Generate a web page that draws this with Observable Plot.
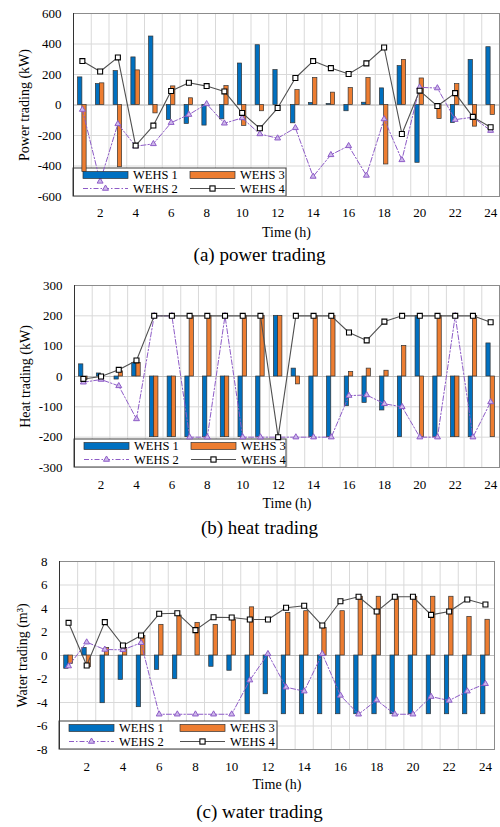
<!DOCTYPE html>
<html><head><meta charset="utf-8">
<script src="https://cdn.jsdelivr.net/npm/d3@7"></script>
<script src="https://cdn.jsdelivr.net/npm/@observablehq/plot@0.6"></script>
<style>
body{margin:0;background:#fff;}
#c{position:relative;width:500px;height:827px;overflow:hidden;}
#c svg{position:absolute;left:0;}
</style></head><body><div id="c"></div>
<script>
const hours = d3.range(1, 25);
const xTicks = [2, 4, 6, 8, 10, 12, 14, 16, 18, 20, 22, 24];
const seriesNames = ["WEHS 1", "WEHS 2", "WEHS 3", "WEHS 4"];

// (a) power trading (kW)
const powerW1 = [181,137,222,312,449,-98,-124,-135,-94,272,392,229,-120,13,7,-41,15,109,255,-379,0,-118,296,379];
const powerW2 = [-30,-501,-124,-270,-255,-116,-63,7,-120,-85,-190,-218,-150,-469,-327,-268,-462,-92,-360,116,111,-96,-80,-168];
const powerW3 = [-440,142,-408,227,-55,122,44,0,124,-137,-41,0,98,177,81,111,177,-390,296,174,-92,137,-142,-65];
const powerW4 = [288,220,312,-266,-135,92,146,124,89,-52,-153,-20,177,288,242,203,273,377,-190,94,-7,78,-78,-146];
const powerTicks = [-600,-400,-200,0,200,400,600];

// (b) heat trading (kW)
const heatW1 = [40,10,-10,45,-200,-200,-200,-200,-200,-200,-200,200,26,-200,-200,-98,-87,-112,-200,200,-200,-200,-200,109];
const heatW2 = [-19,-10,-31,-140,200,200,-200,-200,200,-200,-200,-200,-200,-200,-200,-63,-61,-90,-100,-200,-200,200,-200,-84];
const heatW3 = [-12,0,17,45,-200,-200,200,200,-200,200,200,200,-26,200,200,15,26,19,101,-200,200,-200,200,-200];
const heatW4 = [-8,0,22,53,200,200,200,200,200,200,200,-200,200,200,200,145,119,181,200,200,200,200,200,179];
const heatTicks = [-300,-200,-100,0,100,200,300];

// (c) water trading (m3)
const waterW1 = [-1.13,0.65,-4.06,-2.07,-4.4,-1.22,-2.01,0,-0.96,-1.3,-5,-3.3,-5,-5,-5,-5,-5,-5,-5,-5,-5,-5,-5,-5];
const waterW2 = [-0.9,1.13,0.51,0.48,1.08,-5,-5,-5,-5,-5,-2.1,0.14,-2.7,-3.04,0.14,-3.4,-5,-3.8,-5,-5,-3.5,-3.83,-3.04,-2.41];
const waterW3 = [-0.71,-1.0,0.65,0.65,1.65,2.61,3.4,2.78,2.61,3.06,4.1,0,3.63,3.77,2.35,3.77,5,5,5,5,5,5,3.29,3.04];
const waterW4 = [2.78,-0.85,2.84,0.85,1.7,3.55,3.6,2.16,3.26,3.23,3.06,3.06,4.06,4.23,2.55,4.62,5,3.74,5,5,3.46,3.74,4.77,4.34];
const waterTicks = [-8,-6,-4,-2,0,2,4,6,8];

const BLUE = "#0070C0", ORANGE = "#ED7D31", PURPLE = "#8E5CC7", PURPLE_FILL = "#CDB8EA", DARK = "#505050";
const BW = 0.24;
const FONT = "Liberation Serif";

function legendBg(w) {
  return (index, scales, values, dim) => {
    const y0 = dim.height - dim.marginBottom - 28;
    return d3.create("svg:rect")
      .attr("x", dim.marginLeft).attr("y", y0).attr("width", w).attr("height", 28)
      .attr("fill", "white").attr("stroke", "#404040").attr("stroke-width", 1).node();
  };
}
function legendFg(w) {
  return (index, scales, values, dim) => {
    const x0 = dim.marginLeft, y0 = dim.height - dim.marginBottom - 28;
    const g = d3.create("svg:g").attr("font-family", FONT).attr("font-size", 12.5)
      .attr("fill", "black").attr("text-anchor", "start");
    const r1 = y0 + 7, r2 = y0 + 20.5;
    const col2 = x0 + (w > 215 ? 121 : 117);
    // WEHS 1
    g.append("rect").attr("x", x0 + 10).attr("y", r1 - 3.5).attr("width", 45).attr("height", 7)
      .attr("fill", BLUE).attr("stroke", "#333").attr("stroke-width", 0.7);
    g.append("text").attr("x", x0 + 60).attr("y", r1).attr("dy", "0.35em").text(seriesNames[0]);
    // WEHS 3
    g.append("rect").attr("x", col2).attr("y", r1 - 3.5).attr("width", 45).attr("height", 7)
      .attr("fill", ORANGE).attr("stroke", "#333").attr("stroke-width", 0.7);
    g.append("text").attr("x", col2 + 50).attr("y", r1).attr("dy", "0.35em").text(seriesNames[2]);
    // WEHS 2
    g.append("line").attr("x1", x0 + 10).attr("x2", x0 + 55).attr("y1", r2).attr("y2", r2)
      .attr("stroke", PURPLE).attr("stroke-dasharray", "5,2,1.5,2");
    g.append("path").attr("d", d3.symbol(d3.symbolTriangle, 16)()).attr("transform", `translate(${x0 + 32.5},${r2})`)
      .attr("fill", PURPLE_FILL).attr("stroke", PURPLE);
    g.append("text").attr("x", x0 + 60).attr("y", r2).attr("dy", "0.35em").text(seriesNames[1]);
    // WEHS 4
    g.append("line").attr("x1", col2).attr("x2", col2 + 45).attr("y1", r2).attr("y2", r2)
      .attr("stroke", DARK).attr("stroke-width", 1);
    g.append("rect").attr("x", col2 + 22.5 - 2.6).attr("y", r2 - 2.6).attr("width", 5.2).attr("height", 5.2)
      .attr("fill", "white").attr("stroke", "black").attr("stroke-width", 1.1);
    g.append("text").attr("x", col2 + 50).attr("y", r2).attr("dy", "0.35em").text(seriesNames[3]);
    return g.node();
  };
}

function panel(o) {
  const rows = hours.map((h, i) => ({h, w1: o.a1[i], w2: o.a2[i], w3: o.a3[i], w4: o.a4[i]}));
  const frameCx = o.ml + (500 - o.ml - o.mr) / 2;
  const plot = Plot.plot({
    width: 500, height: o.height,
    marginLeft: o.ml, marginRight: o.mr, marginTop: o.mt, marginBottom: o.mb,
    style: {background: "transparent", fontFamily: FONT, fontSize: "13px", color: "black", overflow: "visible"},
    x: {domain: [0.5, 24.5]},
    y: {domain: [o.yTicks[0], o.yTicks[o.yTicks.length - 1]]},
    marks: [
      Plot.gridY({ticks: o.yTicks, stroke: "#d9d9d9", strokeOpacity: 1}),
      Plot.gridX({ticks: d3.range(1.5, 24, 1), stroke: "#d9d9d9", strokeOpacity: 1}),
      Plot.ruleY([0], {stroke: "#bfbfbf"}),
      legendBg(o.legendW),
      Plot.rectY(rows.filter(d => d.w1 !== 0), {x1: d => d.h - BW, x2: d => d.h, y: "w1", fill: BLUE, stroke: "#333", strokeWidth: 0.7}),
      Plot.rectY(rows.filter(d => d.w3 !== 0), {x1: d => d.h, x2: d => d.h + BW, y: "w3", fill: ORANGE, stroke: "#333", strokeWidth: 0.7}),
      Plot.line(rows, {x: "h", y: "w2", stroke: PURPLE, strokeWidth: 1, strokeDasharray: "5,2,1.5,2"}),
      Plot.dot(rows, {x: "h", y: "w2", symbol: "triangle", r: 2.2, fill: PURPLE_FILL, stroke: PURPLE, strokeWidth: 1}),
      Plot.line(rows, {x: "h", y: "w4", stroke: DARK, strokeWidth: 1.1}),
      Plot.dot(rows, {x: "h", y: "w4", symbol: "square", r: 2.8, fill: "white", stroke: "black", strokeWidth: 1.1}),
      Plot.frame({stroke: "#8c8c8c"}),
      Plot.ruleX([0.5], {stroke: "#333"}),
      legendFg(o.legendW),
      Plot.axisX({ticks: xTicks, tickSize: 0, tickPadding: o.tickPad, fontSize: 13, label: null, tickFormat: d => String(d)}),
      Plot.axisY({ticks: o.yTicks, tickSize: 0, tickPadding: 12, fontSize: 13, label: null, tickFormat: d => String(d)}),
      Plot.text([o.ylabel], {frameAnchor: "left", textAnchor: "middle", lineAnchor: "middle", rotate: -90, dx: o.ylx - o.ml, fontSize: 14, fill: "black"}),
      Plot.text(["Time (h)"], {frameAnchor: "bottom", textAnchor: "middle", dy: o.timeDy, fontSize: 14, fill: "black"}),
      Plot.text([o.caption], {frameAnchor: "bottom", textAnchor: "middle", dx: 259 - frameCx, dy: o.capDy, fontSize: 19, fill: "black"})
    ]
  });
  plot.style.top = o.top + "px";
  document.getElementById("c").appendChild(plot);
}

panel({top: 0, height: 272, mt: 13, mb: 76, ml: 73, mr: 1, yTicks: powerTicks,
  a1: powerW1, a2: powerW2, a3: powerW3, a4: powerW4, ylabel: "Power trading (kW)", ylx: 24,
  caption: "(a) power trading", tickPad: 11, timeDy: 40, capDy: 64, legendW: 213});
panel({top: 272, height: 272, mt: 13, mb: 77, ml: 74, mr: 1, yTicks: heatTicks,
  a1: heatW1, a2: heatW2, a3: heatW3, a4: heatW4, ylabel: "Heat trading (kW)", ylx: 25,
  caption: "(b) heat trading", tickPad: 12, timeDy: 40, capDy: 66, legendW: 212});
panel({top: 544, height: 283, mt: 17, mb: 78, ml: 59, mr: 6, yTicks: waterTicks,
  a1: waterW1, a2: waterW2, a3: waterW3, a4: waterW4, ylabel: "Water trading (m³)", ylx: 22,
  caption: "(c) water trading", tickPad: 12, timeDy: 39, capDy: 68, legendW: 218});
</script></body></html>
